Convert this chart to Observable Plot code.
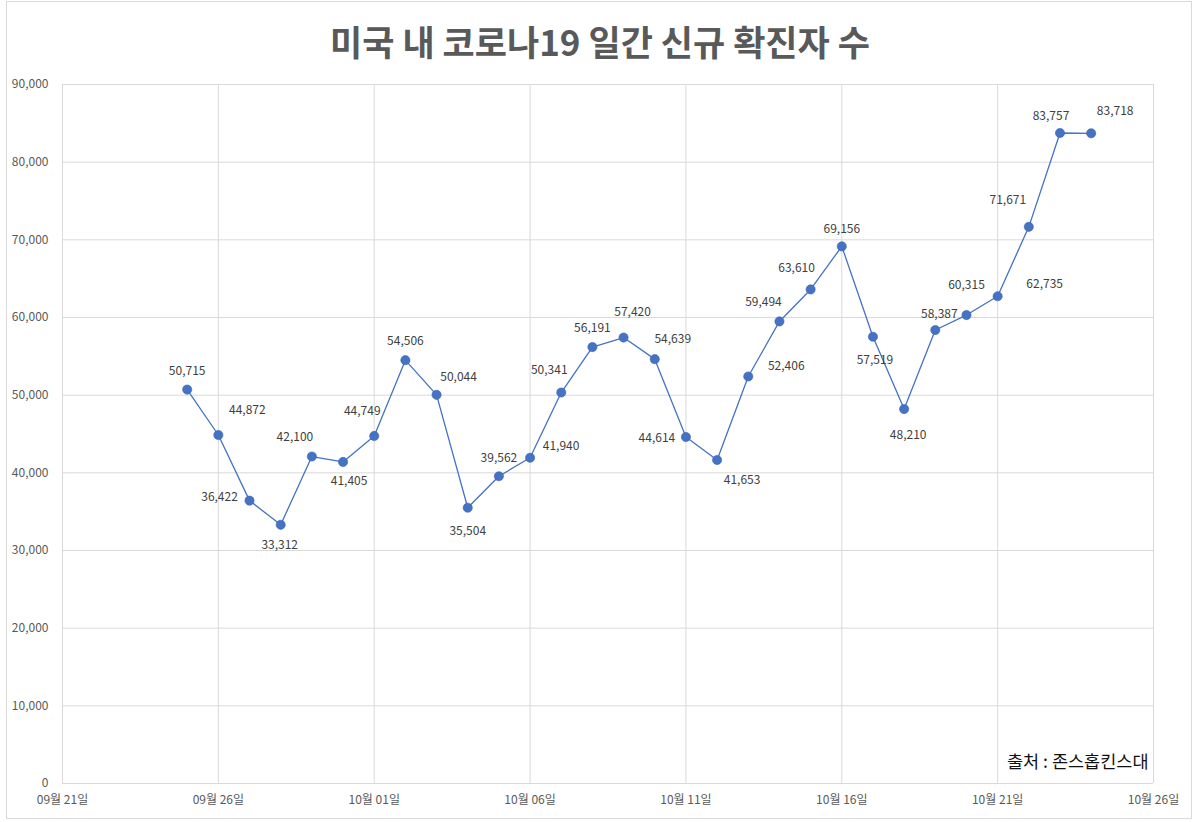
<!DOCTYPE html>
<html>
<head>
<meta charset="utf-8">
<script src="https://cdn.jsdelivr.net/npm/d3@7"></script>
<script src="https://cdn.jsdelivr.net/npm/@observablehq/plot@0.6"></script>
<style>
  html, body { margin: 0; padding: 0; background: #fff; }
  #wrap { position: relative; width: 1200px; height: 822px; font-family: "Noto Sans CJK KR", "Noto Sans", sans-serif; }
  #frame { position: absolute; left: 6px; top: 1px; width: 1186px; height: 818px; border: 1px solid #d9d9d9; box-sizing: border-box; }
  #title { position: absolute; left: 0; top: 16px; width: 1200px; text-align: center; font-size: 35px; font-weight: 700; color: #595959; line-height: 50px; }
  #chart { position: absolute; left: 0; top: 0; }
</style>
</head>
<body>
<div id="wrap">
  <div id="frame"></div>
  <div id="title">미국 내 코로나19 일간 신규 확진자 수</div>
  <div id="chart"></div>
</div>
<script>
const dates = ["2020-09-25","2020-09-26","2020-09-27","2020-09-28","2020-09-29","2020-09-30",
  "2020-10-01","2020-10-02","2020-10-03","2020-10-04","2020-10-05","2020-10-06","2020-10-07",
  "2020-10-08","2020-10-09","2020-10-10","2020-10-11","2020-10-12","2020-10-13","2020-10-14",
  "2020-10-15","2020-10-16","2020-10-17","2020-10-18","2020-10-19","2020-10-20","2020-10-21",
  "2020-10-22","2020-10-23","2020-10-24"];
const cases = [50715,44872,36422,33312,42100,41405,44749,54506,50044,35504,39562,41940,50341,
  56191,57420,54639,44614,41653,52406,59494,63610,69156,57519,48210,58387,60315,62735,71671,83757,83718];
// label offsets (px) relative to each point
const labelDx = [0,29,-30,-1,-17,6,-12,0,22,0,0,31,-12,0,9,18,-29,25,38,-16,-14,0,2,4,4,0,47,-21,-9,24];
const labelDy = [-18,-25,-3,20,-19,19,-25,-19,-18,23,-18,-12,-22,-19,-25,-20,1,20,-10,-19,-21,-17,23,26,-16,-30,-12,-27,-17,-22];
const tickDates = ["2020-09-21","2020-09-26","2020-10-01","2020-10-06","2020-10-11","2020-10-16","2020-10-21","2020-10-26"];
const tickLabels = ["09월 21일","09월 26일","10월 01일","10월 06일","10월 11일","10월 16일","10월 21일","10월 26일"];
const yTicks = [0,10000,20000,30000,40000,50000,60000,70000,80000,90000];
const source = "출처 : 존스홉킨스대";

const parse = d3.utcParse("%Y-%m-%d");
const data = dates.map((d, i) => ({date: parse(d), value: cases[i], dx: labelDx[i], dy: labelDy[i]}));
const ticks = tickDates.map(parse);
const tickFmt = new Map(ticks.map((t, i) => [+t, tickLabels[i]]));
const fmt = d3.format(",");

const plot = Plot.plot({
  width: 1200,
  height: 822,
  marginLeft: 62,
  marginRight: 47,
  marginTop: 84,
  marginBottom: 39,
  style: {fontFamily: '"Noto Sans CJK KR", "Noto Sans", sans-serif', background: "transparent"},
  x: {type: "utc", domain: [ticks[0], ticks[ticks.length - 1]], label: null},
  y: {domain: [0, 90000], label: null},
  marks: [
    Plot.gridX(ticks, {stroke: "#d9d9d9", strokeOpacity: 1, strokeWidth: 1}),
    Plot.gridY(yTicks, {stroke: "#d9d9d9", strokeOpacity: 1, strokeWidth: 1}),
    Plot.axisX(ticks, {tickSize: 0, tickPadding: 12, tickFormat: d => tickFmt.get(+d), fontSize: 12, fill: "#595959", label: null}),
    Plot.axisY(yTicks, {tickSize: 0, tickPadding: 14, tickFormat: fmt, fontSize: 12, fill: "#595959", label: null}),
    Plot.line(data, {x: "date", y: "value", stroke: "#4472c4", strokeWidth: 1.3}),
    Plot.dot(data, {x: "date", y: "value", r: 4.6, fill: "#4472c4", stroke: "#3a63ad", strokeWidth: 0.6}),
    ...data.map(d => Plot.text([d], {x: "date", y: "value", text: e => fmt(e.value), dx: d.dx, dy: d.dy, fontSize: 12, fill: "#404040"})),
    Plot.text([source], {frameAnchor: "bottom-right", dx: -5, dy: -16, fontSize: 17.5, fontWeight: 400, fill: "#111", textAnchor: "end", letterSpacing: "0.6px"})
  ]
});
document.getElementById("chart").appendChild(plot);
</script>
</body>
</html>
